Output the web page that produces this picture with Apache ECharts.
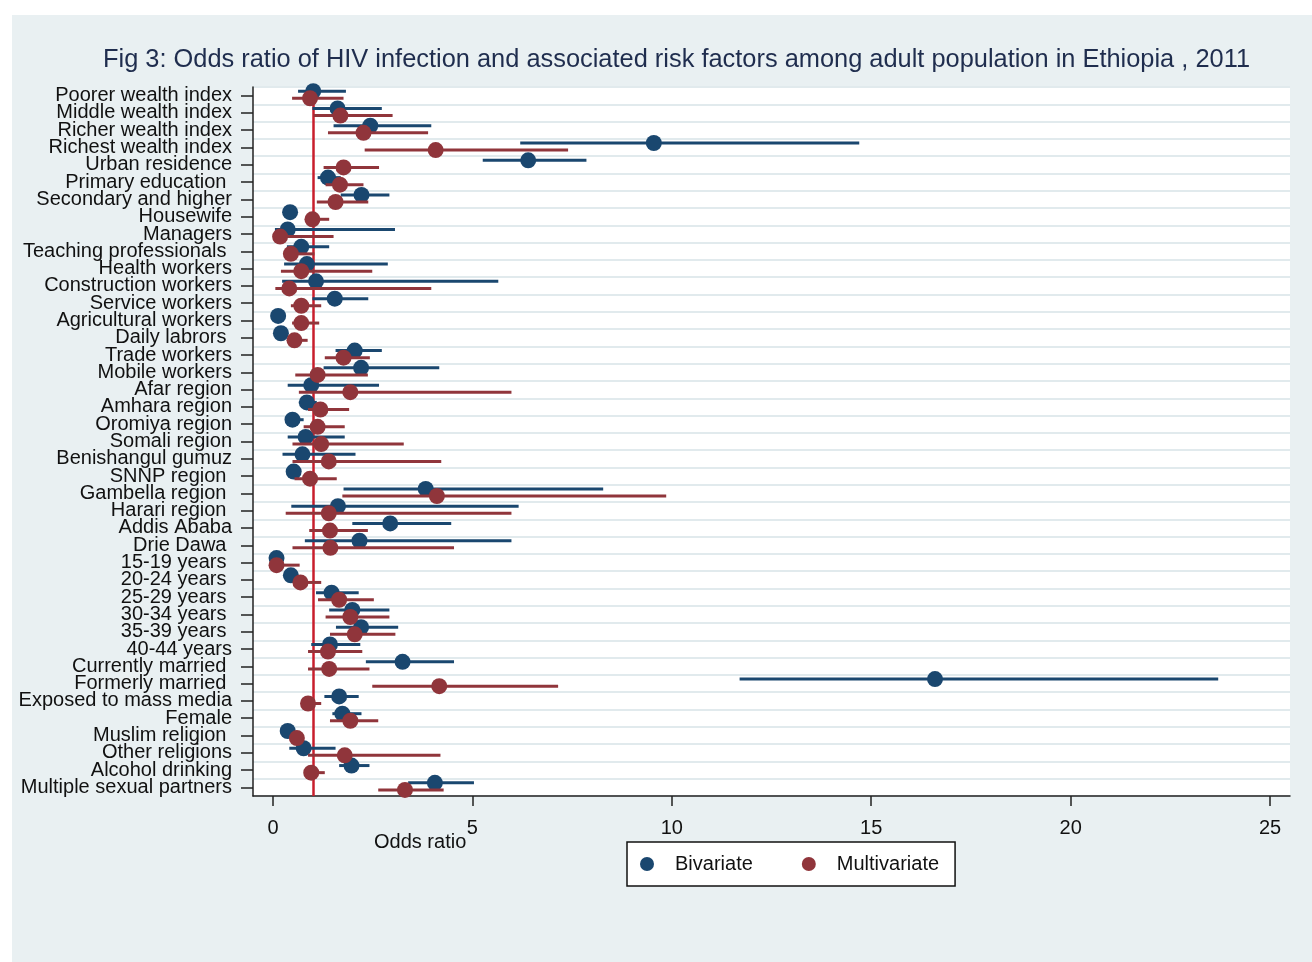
<!DOCTYPE html>
<html>
<head>
<meta charset="utf-8">
<script src="https://cdn.jsdelivr.net/npm/echarts@6/dist/echarts.min.js"></script>
<style>
html,body{margin:0;padding:0;background:#ffffff;}
#chart{width:1312px;height:962px;}
</style>
</head>
<body>
<div id="chart"></div>
<script>
const categories = ['Poorer wealth index','Middle wealth index','Richer wealth index','Richest wealth index','Urban residence','Primary education ','Secondary and higher','Housewife','Managers','Teaching professionals ','Health workers','Construction workers','Service workers','Agricultural workers','Daily labrors ','Trade workers','Mobile workers','Afar region','Amhara region','Oromiya region','Somali region','Benishangul gumuz','SNNP region ','Gambella region ','Harari region ','Addis Ababa','Drie Dawa ','15-19 years ','20-24 years ','25-29 years ','30-34 years ','35-39 years ','40-44 years','Currently married ','Formerly married ','Exposed to mass media','Female','Muslim religion ','Other religions','Alcohol drinking','Multiple sexual partners'];

const biv   = [1.01,1.62,2.44,9.55,6.4, 1.38,2.22,0.43,0.37,0.71, 0.85,1.08,1.55,0.13,0.2, 2.05,2.21,0.96,0.85,0.49, 0.82,0.74,0.52,3.83,1.63, 2.94,2.17,0.09,0.45,1.47, 1.99,2.21,1.43,3.25,16.6, 1.66,1.74,0.37,0.77,1.97, 4.06];
const bivLo = [0.63,0.99,1.52,6.2,5.26, 1.12,1.7,0.33,0.05,0.35, 0.28,0.23,0.99,0.08,0.14, 1.57,1.27,0.37,0.65,0.36, 0.37,0.24,0.4,1.77,0.46, 1.99,0.8,0.05,0.35,1.08, 1.41,1.58,0.96,2.33,11.7, 1.29,1.49,0.28,0.41,1.66, 3.39];
const bivHi = [1.83,2.73,3.97,14.7,7.86, 1.7,2.92,0.55,3.06,1.41, 2.88,5.65,2.39,0.2,0.28, 2.73,4.17,2.66,1.1,0.77, 1.8,2.07,0.68,8.28,6.16, 4.47,5.98,0.15,0.58,2.15, 2.92,3.14,2.19,4.54,23.7, 2.15,2.22,0.47,1.57,2.42, 5.04];

const mult   = [0.93,1.69,2.27,4.08,1.77, 1.68,1.57,0.99,0.18,0.45, 0.71,0.41,0.71,0.71,0.54, 1.77,1.12,1.94,1.19,1.12, 1.21,1.4,0.93,4.11,1.4, 1.43,1.44,0.09,0.69,1.66, 1.94,2.05,1.38,1.41,4.17, 0.88,1.94,0.6,1.8,0.96, 3.31];
const multLo = [0.48,1.02,1.38,2.3,1.27, 1.32,1.1,0.85,0.1,0.32, 0.2,0.06,0.45,0.48,0.37, 1.3,0.56,0.65,0.88,0.77, 0.49,0.49,0.54,1.74,0.32, 0.91,0.49,0.05,0.5,1.13, 1.32,1.43,0.88,0.88,2.49, 0.71,1.43,0.45,0.88,0.82, 2.64];
const multHi = [1.77,3.0,3.89,7.4,2.66, 2.27,2.39,1.41,1.52,1.04, 2.49,3.97,1.21,1.16,0.87, 2.43,2.38,5.98,1.91,1.8, 3.28,4.22,1.6,9.86,5.98, 2.38,4.54,0.67,1.21,2.53, 2.92,3.07,2.24,2.42,7.15, 1.21,2.64,0.75,4.2,1.3, 4.28];

const xTicks = [0,5,10,15,20,25];
const refValue = 1;

const BLUE = '#1a476f';
const RED = '#90353b';
const FONT = "'Liberation Sans', Arial, sans-serif";
const OFF_B = -0.26, OFF_M = 0.15;

function ciSeries(name, lo, hi, off, color, z) {
  return {
    name: name, type: 'custom', xAxisIndex: 0, yAxisIndex: 1, z: z, silent: true,
    data: lo.map((l, i) => [l, hi[i], i + off]),
    encode: { x: [0, 1], y: 2 },
    renderItem: function (params, api) {
      const y = api.value(2);
      const p1 = api.coord([api.value(0), y]);
      const p2 = api.coord([api.value(1), y]);
      return { type: 'line', shape: { x1: p1[0], y1: p1[1], x2: p2[0], y2: p2[1] },
               style: { stroke: color, lineWidth: 3 } };
    }
  };
}

const chart = echarts.init(document.getElementById('chart'), null, { renderer: 'canvas' });
chart.setOption({
  animation: false,
  backgroundColor: '#ffffff',
  textStyle: { fontFamily: FONT },
  graphic: [
    { type: 'rect', z: -10, silent: true, shape: { x: 12, y: 15, width: 1300, height: 947 }, style: { fill: '#e9f0f2' } },
    { type: 'text', z: 10, left: 374, top: 832, style: { text: 'Odds ratio', font: "20px " + FONT, fill: '#111' } }
  ],
  title: {
    text: 'Fig 3: Odds ratio of HIV infection and associated risk factors among adult population in Ethiopia , 2011',
    left: 98, top: 42,
    textStyle: { fontSize: 25.4, fontWeight: 'normal', color: '#1f2d4e', fontFamily: FONT }
  },
  legend: {
    data: ['Bivariate', 'Multivariate'],
    left: 627, top: 842,
    orient: 'horizontal',
    backgroundColor: '#ffffff', borderColor: '#111', borderWidth: 1.5,
    padding: [12, 16, 12, 13],
    itemWidth: 14, itemHeight: 14, itemGap: 49,
    icon: 'circle',
    formatter: function (name) { return '{t|' + name + '}'; },
    textStyle: { fontSize: 20, color: '#111', fontFamily: FONT,
      rich: { t: { fontSize: 20, color: '#111', fontFamily: FONT, padding: [0, 0, 0, 16] } } }
  },
  grid: { left: 253, right: 22, top: 87, bottom: 166, show: true, backgroundColor: '#ffffff', borderWidth: 0 },
  xAxis: [{
    type: 'value', min: -0.5, max: 25.5,
    axisLine: { show: true, onZero: false, lineStyle: { color: '#222', width: 1.5 } },
    axisTick: { show: true, customValues: xTicks, length: 10, lineStyle: { color: '#222', width: 1.5 } },
    axisLabel: { customValues: xTicks, fontSize: 20, color: '#111', margin: 22, fontFamily: FONT },
    splitLine: { show: false }
  }],
  yAxis: [{
    type: 'category', data: categories, inverse: true,
    axisLine: { show: true, onZero: false, lineStyle: { color: '#222', width: 1.5 } },
    axisTick: { show: true, alignWithLabel: true, interval: 0, length: 12, lineStyle: { color: '#222', width: 1.5 } },
    axisLabel: { interval: 0, fontSize: 20, color: '#111', margin: 21, fontFamily: FONT },
    splitLine: { show: true, interval: 0, lineStyle: { color: '#e1eaed', width: 2 } }
  }, {
    type: 'value', min: -0.5, max: 40.5, inverse: true, show: false,
    splitLine: { show: false }
  }],
  series: [
    Object.assign(ciSeries('BivCI', bivLo, bivHi, OFF_B, BLUE, 2), {
      markLine: {
        silent: true, symbol: 'none', z: 1,
        label: { show: false },
        lineStyle: { color: '#c81e2c', width: 2.5, type: 'solid' },
        data: [[{ coord: [refValue, 0] }, { coord: [refValue, 40.5] }]]
      }
    }),
    { name: 'Bivariate', type: 'scatter', xAxisIndex: 0, yAxisIndex: 1, z: 3, symbol: 'circle', symbolSize: 16,
      itemStyle: { color: BLUE, opacity: 1 }, data: biv.map((v, i) => [v, i + OFF_B]) },
    ciSeries('MultCI', multLo, multHi, OFF_M, RED, 4),
    { name: 'Multivariate', type: 'scatter', xAxisIndex: 0, yAxisIndex: 1, z: 5, symbol: 'circle', symbolSize: 16,
      itemStyle: { color: RED, opacity: 1 }, data: mult.map((v, i) => [v, i + OFF_M]) }
  ]
});
</script>
</body>
</html>
